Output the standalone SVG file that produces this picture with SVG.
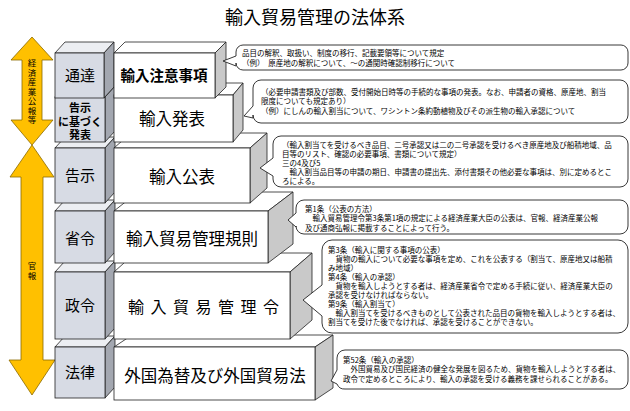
<svg xmlns="http://www.w3.org/2000/svg" width="630" height="411" viewBox="0 0 630 411">
<style>
text{font-family:"Noto Sans CJK JP","Noto Sans",sans-serif;fill:#000}
.ttl{font-size:18px}
.gf{fill:#d7dbe4;stroke:#222;stroke-width:0.8}
.gs{fill:#a3a7b0;stroke:#222;stroke-width:0.8}
.gt{fill:#eceef2;stroke:#222;stroke-width:0.8}
.mf{fill:#fff;stroke:#222;stroke-width:0.8}
.ms{fill:#c9c9c9;stroke:#222;stroke-width:0.8}
.mt{fill:#fff;stroke:#222;stroke-width:0.8}
.arw{fill:#ffc000;stroke:#8a6a00;stroke-width:0.8}
.co{fill:#fff;stroke:#222;stroke-width:0.9}
.ct{font-size:7.5px}
.gl{font-size:15px;text-anchor:middle}
.gb{font-size:11px;font-weight:bold;text-anchor:middle}
.ml{font-size:16.5px;text-anchor:middle}
.vt{font-size:8.5px;writing-mode:vertical-rl;letter-spacing:1px}
</style>
<text class="ttl" x="315" y="24" text-anchor="middle">輸入貿易管理の法体系</text>

<g id="arrow-kouhou">
<path class="arw" d="M32,37 L53,60 L42,60 L42,120 L53,120 L32,145 L11,120 L22,120 L22,60 L11,60 Z"/>
<text class="vt" x="32" y="59">経済産業公報等</text>
</g>
<g id="arrow-kanpou">
<path class="arw" d="M32,145 L54,177 L43,177 L43,360 L55,360 L32,395 L9,360 L21,360 L21,177 L10,177 Z"/>
<text class="vt" x="32" y="262">官報</text>
</g>

<!-- blocks drawn bottom to top -->
<g id="row-houritsu">
<path class="gt" d="M55,347 L65,336 L115,336 L105,347 Z"/>
<path class="gs" d="M105,347 L115,336 L115,387 L105,398 Z"/>
<rect class="gf" x="55" y="347" width="50" height="51"/>
<text class="gl" x="80" y="378">法律</text>
<path class="mt" d="M114,347 L132,335 L333,335 L315,347 Z"/>
<path class="ms" d="M315,347 L333,335 L333,388 L315,400 Z"/>
<rect class="mf" x="114" y="347" width="201" height="53"/>
<text class="ml" x="215" y="382">外国為替及び外国貿易法</text>
</g>
<g id="row-seirei">
<path class="gt" d="M55,272 L65,261 L115,261 L105,272 Z"/>
<path class="gs" d="M105,272 L115,261 L115,328 L105,339 Z"/>
<rect class="gf" x="55" y="272" width="50" height="67"/>
<text class="gl" x="80" y="311">政令</text>
<path class="mt" d="M114,272 L135,253 L312,253 L290,272 Z"/>
<path class="ms" d="M290,272 L312,253 L312,320 L290,339 Z"/>
<rect class="mf" x="114" y="272" width="176" height="67"/>
<text style="font-size:16px;letter-spacing:6.5px" x="128" y="313">輸入貿易管理令</text>
</g>
<g id="row-shourei">
<path class="gt" d="M55,211 L65,200 L115,200 L105,211 Z"/>
<path class="gs" d="M105,211 L115,200 L115,252 L105,263 Z"/>
<rect class="gf" x="55" y="211" width="50" height="52"/>
<text class="gl" x="80" y="244">省令</text>
<path class="mt" d="M114,211 L138,192 L293,192 L268,211 Z"/>
<path class="ms" d="M268,211 L293,192 L293,244 L268,263 Z"/>
<rect class="mf" x="114" y="211" width="154" height="52"/>
<text class="ml" x="192" y="245">輸入貿易管理規則</text>
</g>
<g id="row-kokuji">
<path class="gt" d="M55,148 L65,137 L115,137 L105,148 Z"/>
<path class="gs" d="M105,148 L115,137 L115,192 L105,203 Z"/>
<rect class="gf" x="55" y="148" width="50" height="55"/>
<text class="gl" x="80" y="181">告示</text>
<path class="mt" d="M114,148 L131,133 L267,133 L250,148 Z"/>
<path class="ms" d="M250,148 L267,133 L267,188 L250,203 Z"/>
<rect class="mf" x="114" y="148" width="136" height="55"/>
<text class="ml" x="182" y="183">輸入公表</text>
</g>
<g id="row-happyou">
<path class="gt" d="M55,97 L65,86 L115,86 L105,97 Z"/>
<path class="gs" d="M105,97 L115,86 L115,131 L105,142 Z"/>
<rect class="gf" x="55" y="97" width="50" height="45"/>
<text class="gb" x="80" y="112">告示<tspan x="80" dy="14">に基づく</tspan><tspan x="80" dy="13">発表</tspan></text>
<path class="mt" d="M114,95 L124,83 L243,83 L233,95 Z"/>
<path class="ms" d="M233,95 L243,83 L243,130 L233,142 Z"/>
<rect class="mf" x="114" y="95" width="119" height="47"/>
<text class="ml" x="172" y="125">輸入発表</text>
</g>
<g id="row-tsuutatsu">
<path class="gt" d="M55,53 L65,42 L114,42 L104,53 Z"/>
<path class="gs" d="M104,53 L114,42 L114,87 L104,98 Z"/>
<rect class="gf" x="55" y="53" width="49" height="45"/>
<text class="gl" x="80" y="81">通達</text>
<path class="mt" d="M114,53 L125,42 L226,42 L215,53 Z"/>
<path class="ms" d="M215,53 L226,42 L226,87 L215,98 Z"/>
<rect class="mf" x="114" y="53" width="101" height="45"/>
<text style="font-size:14.5px;font-weight:bold" x="164" y="81" text-anchor="middle">輸入注意事項</text>
</g>

<g id="connectors"></g>

<g id="callout-1">
<path class="co" d="M243,45 H621 A7,7 0 0 1 628,52 V63 A7,7 0 0 1 621,70 H243 A7,7 0 0 1 236,63 V66 L223,61 L236,56 V52 A7,7 0 0 1 243,45 Z"/>
<text class="ct" x="242" y="56">品目の解釈、取扱い、制度の移行、記載要領等について規定<tspan x="242" dy="9.5">（例）　原産地の解釈について、～の通関時確認制移行について</tspan></text>
</g>
<g id="callout-2">
<path class="co" d="M261,80 H620 A8,8 0 0 1 628,88 V115 A8,8 0 0 1 620,123 H261 A8,8 0 0 1 253,115 V118 L244,116 L253,106 V88 A8,8 0 0 1 261,80 Z"/>
<text class="ct" x="261" y="94.5">（必要申請書類及び部数、受付開始日時等の手続的な事項の発表。なお、申請者の資格、原産地、割当<tspan x="261" dy="9.5">限度についても規定あり）</tspan><tspan x="261" dy="9.5">（例）にしんの輸入割当について、ワシントン条約動植物及びその派生物の輸入承認について</tspan></text>
</g>
<g id="callout-3">
<path class="co" d="M281,136 H620 A8,8 0 0 1 628,144 V179 A8,8 0 0 1 620,187 H281 A8,8 0 0 1 273,179 V176 L260,168 L273,158 V144 A8,8 0 0 1 281,136 Z"/>
<text class="ct" x="282" y="147.5">（輸入割当てを受けるべき品目、二号承認又は二の二号承認を受けるべき原産地及び船積地域、品<tspan x="282" dy="9.2">目等のリスト、確認の必要事項、書類について規定）</tspan><tspan x="282" dy="9.2">三の4及び5</tspan><tspan x="282" dy="9.2">　輸入割当品目等の申請の期日、申請書の提出先、添付書類その他必要な事項は、別に定めるとこ</tspan><tspan x="282" dy="9.2">ろによる。</tspan></text>
</g>
<g id="callout-4">
<path class="co" d="M304,200 H620 A8,8 0 0 1 628,208 V226 A8,8 0 0 1 620,234 H304 A8,8 0 0 1 296,226 V227 L288,220 L296,213 V208 A8,8 0 0 1 304,200 Z"/>
<text class="ct" x="305" y="211.5">第1条（公表の方法）<tspan x="305" dy="9.5">　輸入貿易管理令第3条第1項の規定による経済産業大臣の公表は、官報、経済産業公報</tspan><tspan x="305" dy="9.5">及び通商弘報に掲載することによって行う。</tspan></text>
</g>
<g id="callout-5">
<path class="co" d="M332,240 H618 A10,10 0 0 1 628,250 V323 A10,10 0 0 1 618,333 H332 A10,10 0 0 1 322,323 V316 L303,300 L322,285 V250 A10,10 0 0 1 332,240 Z"/>
<text class="ct" x="328" y="252.5">第3条（輸入に関する事項の公表）<tspan x="328" dy="9">　貨物の輸入について必要な事項を定め、これを公表する（割当て、原産地又は船積</tspan><tspan x="328" dy="9">み地域）</tspan><tspan x="328" dy="9">第4条（輸入の承認）</tspan><tspan x="328" dy="9">　貨物を輸入しようとする者は、経済産業省令で定める手続に従い、経済産業大臣の</tspan><tspan x="328" dy="9">承認を受けなければならない。</tspan><tspan x="328" dy="9">第9条（輸入割当て）</tspan><tspan x="328" dy="9">　輸入割当てを受けるべきものとして公表された品目の貨物を輸入しようとする者は、</tspan><tspan x="328" dy="9">割当てを受けた後でなければ、承認を受けることができない。</tspan></text>
</g>
<g id="callout-6">
<path class="co" d="M345,350 H620 A8,8 0 0 1 628,358 V381 A8,8 0 0 1 620,389 H345 A8,8 0 0 1 337,384 L331,381 L337,370 V358 A8,8 0 0 1 345,350 Z"/>
<text class="ct" x="343" y="362.5">第52条（輸入の承認）<tspan x="343" dy="9.5">　外国貿易及び国民経済の健全な発展を図るため、貨物を輸入しようとする者は、</tspan><tspan x="343" dy="9.5">政令で定めるところにより、輸入の承認を受ける義務を課せられることがある。</tspan></text>
</g>
</svg>
